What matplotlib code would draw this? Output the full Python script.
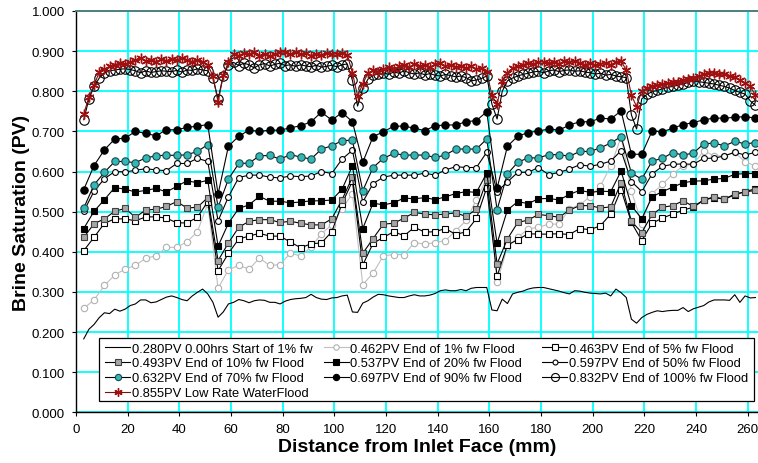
import numpy as np
import matplotlib
matplotlib.use("Agg")
import matplotlib.pyplot as plt
from matplotlib.patches import Rectangle

plt.rcParams['font.family'] = ['Liberation Sans', 'DejaVu Sans']

# positions along the core (mm)
x4 = np.arange(3, 264, 4)   # coarse profiles, 4 mm step
x2 = np.arange(3, 264, 2)   # fine profiles, 2 mm step

sw_start = [0.183, 0.207, 0.219, 0.236, 0.248, 0.246, 0.257, 0.252, 0.257, 0.266, 0.270, 0.280, 0.280, 0.273, 0.275,
            0.281, 0.287, 0.290, 0.286, 0.281, 0.278, 0.290, 0.299, 0.307, 0.295, 0.274, 0.237, 0.250, 0.270, 0.274,
            0.281, 0.278, 0.273, 0.278, 0.280, 0.279, 0.274, 0.274, 0.270, 0.277, 0.281, 0.283, 0.284, 0.286, 0.294,
            0.286, 0.282, 0.281, 0.285, 0.286, 0.290, 0.292, 0.250, 0.249, 0.272, 0.278, 0.287, 0.294, 0.293, 0.290,
            0.288, 0.286, 0.286, 0.290, 0.293, 0.290, 0.290, 0.292, 0.296, 0.303, 0.305, 0.303, 0.303, 0.306, 0.303,
            0.309, 0.311, 0.311, 0.311, 0.255, 0.253, 0.282, 0.271, 0.295, 0.299, 0.302, 0.307, 0.310, 0.311, 0.311,
            0.308, 0.305, 0.302, 0.298, 0.295, 0.303, 0.302, 0.299, 0.297, 0.296, 0.295, 0.297, 0.290, 0.307, 0.298,
            0.286, 0.232, 0.222, 0.236, 0.244, 0.249, 0.253, 0.251, 0.253, 0.254, 0.254, 0.261, 0.251, 0.258, 0.262,
            0.266, 0.275, 0.280, 0.280, 0.280, 0.279, 0.293, 0.274, 0.290, 0.285, 0.286]

sw_1 = [0.259, 0.280, 0.316, 0.342, 0.357, 0.366, 0.384, 0.390, 0.411, 0.411, 0.425, 0.450, 0.520,
        0.309,
        0.355, 0.366, 0.357, 0.384, 0.366, 0.368, 0.397, 0.389, 0.412, 0.445, 0.467, 0.507, 0.545,
        0.318,
        0.347, 0.390, 0.393, 0.393, 0.423, 0.419, 0.423, 0.428, 0.452, 0.478, 0.530, 0.583,
        0.325,
        0.411, 0.436, 0.457, 0.461, 0.469, 0.469, 0.507, 0.517, 0.537, 0.564, 0.614, 0.686,
        0.552, 0.470,
        0.545, 0.568, 0.594, 0.614, 0.618, 0.652, 0.639, 0.639, 0.648, 0.624, 0.614]

sw_5 = [0.403, 0.436, 0.471, 0.482, 0.482, 0.477, 0.487, 0.487, 0.484, 0.472, 0.472, 0.486, 0.525,
        0.353,
        0.396, 0.432, 0.439, 0.446, 0.439, 0.439, 0.424, 0.410, 0.420, 0.422, 0.450, 0.520, 0.576,
        0.367,
        0.421, 0.436, 0.450, 0.440, 0.461, 0.449, 0.450, 0.458, 0.443, 0.450, 0.483, 0.560,
        0.339,
        0.417, 0.430, 0.445, 0.444, 0.444, 0.445, 0.443, 0.458, 0.455, 0.465, 0.494, 0.555,
        0.473, 0.428,
        0.471, 0.484, 0.494, 0.504, 0.511, 0.529, 0.535, 0.531, 0.542, 0.550, 0.557]

sw_10 = [0.436, 0.470, 0.482, 0.501, 0.508, 0.486, 0.504, 0.506, 0.513, 0.525, 0.509, 0.511, 0.535,
         0.378,
         0.422, 0.461, 0.476, 0.480, 0.480, 0.473, 0.476, 0.471, 0.467, 0.467, 0.482, 0.530, 0.586,
         0.396,
         0.433, 0.469, 0.471, 0.484, 0.498, 0.494, 0.492, 0.494, 0.497, 0.488, 0.506, 0.578,
         0.370,
         0.432, 0.473, 0.479, 0.493, 0.490, 0.486, 0.504, 0.515, 0.515, 0.509, 0.512, 0.572,
         0.476, 0.448,
         0.493, 0.511, 0.515, 0.527, 0.513, 0.529, 0.537, 0.531, 0.544, 0.549, 0.553]

sw_20 = [0.458, 0.501, 0.530, 0.560, 0.556, 0.549, 0.553, 0.558, 0.549, 0.563, 0.577, 0.572, 0.578,
         0.414,
         0.471, 0.508, 0.517, 0.538, 0.526, 0.526, 0.522, 0.524, 0.527, 0.527, 0.529, 0.556, 0.614,
         0.458,
         0.521, 0.517, 0.522, 0.534, 0.532, 0.535, 0.530, 0.537, 0.545, 0.550, 0.548, 0.596,
         0.421,
         0.504, 0.525, 0.520, 0.532, 0.533, 0.529, 0.543, 0.553, 0.548, 0.551, 0.550, 0.601,
         0.515, 0.482,
         0.537, 0.550, 0.561, 0.572, 0.576, 0.577, 0.581, 0.583, 0.593, 0.595, 0.595]

sw_50 = [0.501, 0.551, 0.582, 0.600, 0.599, 0.603, 0.607, 0.604, 0.602, 0.620, 0.620, 0.633, 0.625,
         0.477,
         0.537, 0.585, 0.591, 0.591, 0.586, 0.584, 0.589, 0.587, 0.589, 0.600, 0.595, 0.631, 0.653,
         0.524,
         0.570, 0.586, 0.591, 0.591, 0.591, 0.596, 0.591, 0.604, 0.612, 0.610, 0.610, 0.648,
         0.550,
         0.574, 0.598, 0.598, 0.610, 0.592, 0.598, 0.606, 0.617, 0.613, 0.618, 0.626, 0.652,
         0.575, 0.550,
         0.594, 0.613, 0.618, 0.619, 0.618, 0.633, 0.633, 0.639, 0.648, 0.641, 0.648]

sw_70 = [0.509, 0.567, 0.598, 0.625, 0.625, 0.622, 0.634, 0.639, 0.641, 0.640, 0.642, 0.650, 0.667,
         0.511,
         0.581, 0.620, 0.621, 0.639, 0.640, 0.631, 0.642, 0.636, 0.631, 0.656, 0.664, 0.677, 0.678,
         0.552,
         0.610, 0.633, 0.645, 0.641, 0.641, 0.641, 0.635, 0.641, 0.656, 0.656, 0.656, 0.681,
         0.505,
         0.594, 0.623, 0.634, 0.634, 0.642, 0.642, 0.638, 0.650, 0.650, 0.659, 0.671, 0.687,
         0.596, 0.581,
         0.626, 0.633, 0.647, 0.641, 0.646, 0.669, 0.671, 0.664, 0.675, 0.669, 0.672]

sw_90 = [0.555, 0.615, 0.654, 0.681, 0.683, 0.700, 0.695, 0.689, 0.704, 0.704, 0.710, 0.713, 0.717,
         0.544,
         0.663, 0.688, 0.703, 0.700, 0.703, 0.703, 0.709, 0.714, 0.724, 0.748, 0.728, 0.747, 0.724,
         0.623,
         0.687, 0.699, 0.713, 0.713, 0.708, 0.702, 0.714, 0.716, 0.716, 0.724, 0.727, 0.749,
         0.558,
         0.663, 0.688, 0.697, 0.701, 0.706, 0.703, 0.716, 0.724, 0.724, 0.733, 0.731, 0.751,
         0.643, 0.643,
         0.701, 0.699, 0.708, 0.717, 0.722, 0.729, 0.733, 0.733, 0.735, 0.737, 0.733]

sw_100 = [0.729, 0.781, 0.812, 0.833, 0.846, 0.851, 0.853, 0.855, 0.856, 0.854, 0.851, 0.846, 0.851, 0.847, 0.849,
          0.851, 0.850, 0.849, 0.852, 0.848, 0.853, 0.852, 0.856, 0.853, 0.851, 0.833, 0.781, 0.839, 0.866, 0.872,
          0.864, 0.870, 0.866, 0.858, 0.866, 0.869, 0.863, 0.867, 0.870, 0.864, 0.866, 0.862, 0.866, 0.863, 0.861,
          0.865, 0.860, 0.862, 0.865, 0.861, 0.866, 0.868, 0.827, 0.763, 0.807, 0.830, 0.840, 0.843, 0.846, 0.842,
          0.848, 0.845, 0.851, 0.846, 0.843, 0.846, 0.841, 0.844, 0.840, 0.838, 0.842, 0.839, 0.836, 0.838, 0.834,
          0.826, 0.828, 0.832, 0.838, 0.768, 0.731, 0.800, 0.826, 0.833, 0.838, 0.842, 0.845, 0.848, 0.850, 0.846,
          0.851, 0.853, 0.849, 0.852, 0.853, 0.850, 0.851, 0.848, 0.846, 0.843, 0.845, 0.840, 0.842, 0.838, 0.836,
          0.834, 0.741, 0.706, 0.781, 0.792, 0.799, 0.802, 0.806, 0.810, 0.812, 0.815, 0.818, 0.822, 0.826, 0.824,
          0.822, 0.820, 0.818, 0.815, 0.812, 0.808, 0.802, 0.797, 0.793, 0.776, 0.765]

sw_low = [0.743, 0.786, 0.815, 0.848, 0.855, 0.862, 0.866, 0.870, 0.868, 0.873, 0.878, 0.882, 0.875, 0.879, 0.874,
          0.880, 0.876, 0.881, 0.878, 0.883, 0.877, 0.874, 0.879, 0.873, 0.866, 0.838, 0.772, 0.840, 0.873, 0.893,
          0.889, 0.895, 0.892, 0.897, 0.889, 0.894, 0.887, 0.893, 0.898, 0.899, 0.892, 0.897, 0.892, 0.895, 0.889,
          0.894, 0.891, 0.895, 0.893, 0.894, 0.896, 0.891, 0.846, 0.788, 0.818, 0.845, 0.852, 0.848, 0.856, 0.860,
          0.855, 0.862, 0.866, 0.860, 0.868, 0.862, 0.866, 0.860, 0.867, 0.870, 0.862, 0.866, 0.860, 0.863, 0.857,
          0.862, 0.855, 0.858, 0.849, 0.790, 0.768, 0.826, 0.846, 0.858, 0.862, 0.866, 0.870, 0.868, 0.872, 0.874,
          0.870, 0.873, 0.869, 0.875, 0.872, 0.876, 0.870, 0.866, 0.871, 0.865, 0.868, 0.871, 0.866, 0.873, 0.875,
          0.853, 0.790, 0.762, 0.801, 0.808, 0.812, 0.816, 0.818, 0.820, 0.822, 0.823, 0.828, 0.830, 0.833, 0.838,
          0.842, 0.846, 0.845, 0.843, 0.842, 0.838, 0.835, 0.828, 0.820, 0.812, 0.790]

labels = ["0.280PV 0.00hrs Start of 1% fw", "0.462PV End of 1% fw Flood", "0.463PV End of 5% fw Flood",
          "0.493PV End of 10% fw Flood", "0.537PV End of 20% fw Flood", "0.597PV End of 50% fw Flood",
          "0.632PV End of 70% fw Flood", "0.697PV End of 90% fw Flood", "0.832PV End of 100% fw Flood",
          "0.855PV Low Rate WaterFlood"]

W, H = 758, 464
fig = plt.figure(figsize=(W / 100, H / 100), dpi=100)
ax = fig.add_axes([76/W, 1-413.3/H, 682/W, 401.3/H])

lw = 0.8
h = []
h += ax.plot(x2, sw_start, color="black", lw=lw)
h += ax.plot(x4, sw_1, color="#c0c0c0", lw=lw, marker="o", ms=4.6, mfc="white", mec="#b0b0b0", mew=0.8)
h += ax.plot(x4, sw_5, color="black", lw=lw, marker="s", ms=4.6, mfc="white", mec="black", mew=0.8)
h += ax.plot(x4, sw_10, color="black", lw=lw, marker="s", ms=5.0, mfc="#a6a6a6", mec="#404040", mew=0.8)
h += ax.plot(x4, sw_20, color="black", lw=lw, marker="s", ms=5.0, mfc="black", mec="black", mew=0.8)
h += ax.plot(x4, sw_50, color="black", lw=lw, marker="o", ms=4.2, mfc="white", mec="black", mew=0.8)
h += ax.plot(x4, sw_70, color="black", lw=lw, marker="o", ms=5.3, mfc="#33b8b8", mec="#1a4a4a", mew=0.8)
h += ax.plot(x4, sw_90, color="black", lw=lw, marker="o", ms=5.3, mfc="black", mec="black", mew=0.8)
h += ax.plot(x2, sw_100, color="black", lw=lw, marker="o", ms=6.8, mfc="none", mec="black", mew=0.8)
h += ax.plot(x2, sw_low, color="#7a1010", lw=lw, marker=(6, 2, 0), ms=7, mec="#a01010", mew=1.0)

ax.set_xlim(0, 264)
ax.set_ylim(0, 1.0)
ax.set_xticks(np.arange(0, 261, 20))
ax.set_yticks(np.arange(0, 1.01, 0.1))
ax.yaxis.set_major_formatter(matplotlib.ticker.FormatStrFormatter("%.3f"))
ax.grid(True, color="#00ffff", lw=1.3)
ax.set_axisbelow(True)
ax.tick_params(axis="both", labelsize=9.5, direction="out", length=3, width=0.8, pad=5)
for s in ("left", "bottom"):
    ax.spines[s].set_color("black")
    ax.spines[s].set_linewidth(1.0)
ax.spines["top"].set_color("#4f7f7f")
ax.spines["top"].set_linewidth(1.4)
ax.spines["right"].set_visible(False)

ax.set_xlabel("Distance from Inlet Face (mm)", fontsize=14, fontweight="bold", labelpad=2)
ax.set_ylabel("Brine Saturation (PV)", fontsize=14, fontweight="bold", labelpad=1.5)

# legend: frame plus three equal-width columns, filled row by row
fig.patches.append(Rectangle((99/W, 1-402/H), 655/W, 63/H, transform=fig.transFigure,
                             fill=True, facecolor="white", edgecolor="black", lw=0.9, zorder=5))
cols = [[0, 3, 6, 9], [1, 4, 7], [2, 5, 8]]
col_x = [105, 323.5, 542]
for c, idx in enumerate(cols):
    lg = fig.legend([h[i] for i in idx], [labels[i] for i in idx], loc="upper left",
                    bbox_to_anchor=(col_x[c]/W, 1-343.5/H), bbox_transform=fig.transFigure,
                    fontsize=9.3, frameon=False, borderpad=0, borderaxespad=0,
                    handlelength=1.94, handletextpad=0.15, labelspacing=0.22, markerscale=0.85)
    lg.set_zorder(6)

fig.savefig("out.png", dpi=100)
